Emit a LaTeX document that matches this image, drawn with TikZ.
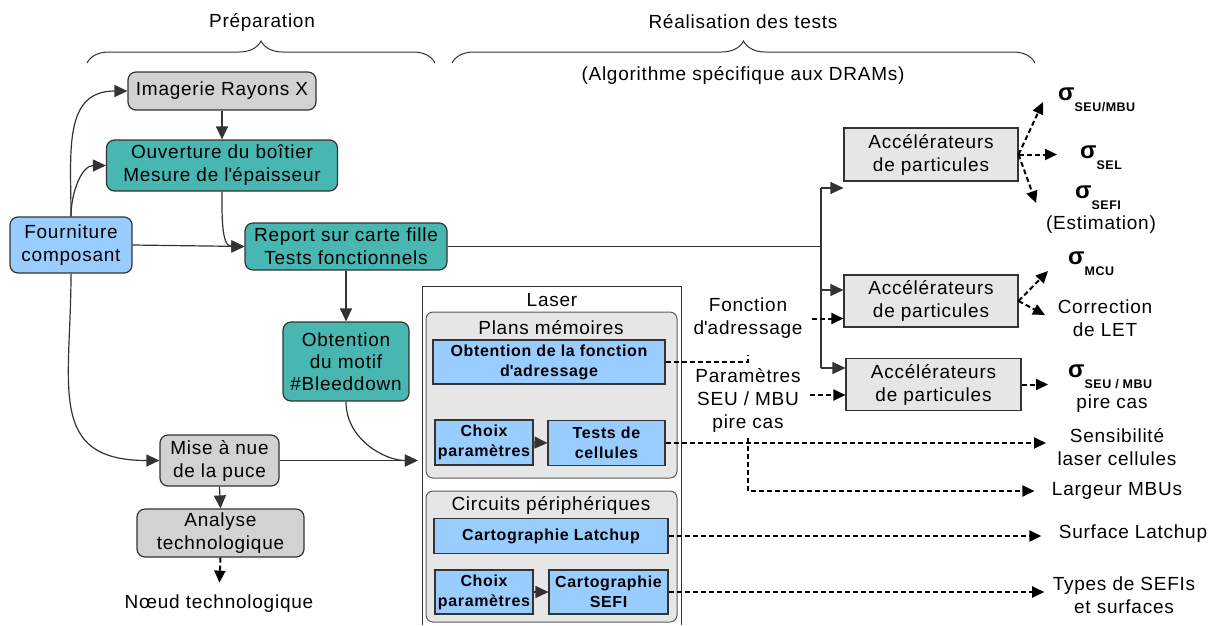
\documentclass[tikz,border=0pt]{standalone}
\usepackage{fontspec}
\setmainfont{Liberation Sans}[LetterSpace=4]
\usetikzlibrary{arrows.meta,decorations.pathreplacing}

\definecolor{tealfill}{HTML}{48B6B1}
\definecolor{bluefill}{HTML}{99CCFF}
\definecolor{grisfill}{HTML}{D2D2D2}
\definecolor{panelfill}{HTML}{E6E6E6}
\definecolor{edge}{HTML}{333333}

\newcommand{\txtsize}{\fontsize{19}{23}\selectfont}
\newcommand{\cellsize}{\fontsize{16}{20}\selectfont\bfseries}
\newcommand{\apos}{\textquotesingle}
\newcommand{\sgm}[1]{{\fontsize{24}{24}\selectfont\bfseries σ}\raisebox{-11pt}{\fontsize{12.5}{12.5}\selectfont\bfseries #1}}

\tikzset{
  every node/.style={font=\txtsize, align=center},
  rbox/.style={draw=edge, line width=1.2pt, rounded corners=8pt, inner sep=0pt},
  grisbox/.style={rbox, fill=grisfill},
  tealbox/.style={rbox, fill=tealfill},
  bluebox/.style={rbox, fill=bluefill},
  panel/.style={draw=edge!80, line width=1pt, rounded corners=7pt, fill=panelfill, inner sep=0pt},
  cellbox/.style={draw=edge, line width=1.1pt, fill=bluefill, inner sep=0pt, font=\cellsize},
  accbox/.style={draw=edge, line width=1.1pt, fill=panelfill, inner sep=0pt},
  sig/.style={anchor=base west, inner sep=0pt},
  line/.style={draw=edge, line width=1.2pt},
  arr/.style={line, -{Triangle[length=13pt,width=12pt]}},
  dashl/.style={draw=black, line width=2pt, dash pattern=on 5pt off 3pt},
  dasharr/.style={dashl, -{Triangle[length=12pt,width=11pt]}},
  brc/.style={draw=edge, line width=1pt, decorate, decoration={brace, amplitude=22pt}}
}

\begin{document}
\begin{tikzpicture}[x=1pt,y=1pt]
\useasboundingbox (0,0) rectangle (1217,-625);

\node (prep) at (262,-22) {Préparation};
\node (real) at (743,-22) {Réalisation des tests};
\node (algo) at (743,-75) {(Algorithme spécifique aux DRAMs)};
\draw[brc] (87,-63) -- (435,-63);
\draw[brc] (452,-63) -- (1035,-63);

\node[grisbox, minimum width=188, minimum height=38] (imag) at (222,-91) {Imagerie Rayons X};
\node[tealbox, minimum width=231, minimum height=51] (ouv) at (222,-165.5) {Ouverture du boîtier\\Mesure de l\apos épaisseur};
\node[bluebox, minimum width=122, minimum height=56] (four) at (71,-245) {Fourniture\\composant};
\node[tealbox, minimum width=202, minimum height=47] (rep) at (346,-246.5) {Report sur carte fille\\Tests fonctionnels};
\node[tealbox, minimum width=126, minimum height=79, font=\fontsize{19}{22}\selectfont] (motif) at (346,-361.5) {Obtention\\du motif\\\#Bleeddown};
\node[grisbox, minimum width=119, minimum height=51] (mise) at (219.5,-460.5) {Mise à nue\\de la puce};
\node[grisbox, minimum width=167, minimum height=48] (analyse) at (220.5,-533) {Analyse\\technologique};
\node (noeud) at (219,-604) {Nœud technologique};

\node[minimum width=258, minimum height=338, inner sep=0pt] (laser) at (552,-456) {};
\draw[line] (laser.south west) |- (laser.north east) -- (laser.south east);
\node (lasert) at (552,-300) {Laser};
\node[panel, minimum width=251, minimum height=166] (plans) at (551.5,-395) {};
\node (planst) at (551,-328) {Plans mémoires};
\node[panel, minimum width=251, minimum height=131] (circ) at (551.5,-556.5) {};
\node (circt) at (551,-505) {Circuits périphériques};

\node[cellbox, minimum width=232, minimum height=44] (obtf) at (549,-362) {Obtention de la fonction\\d\apos adressage};
\node[cellbox, minimum width=98, minimum height=45] (choixa) at (484,-442.5) {Choix\\paramètres};
\node[cellbox, minimum width=117, minimum height=45] (tests) at (606.5,-443) {Tests de\\cellules};
\node[cellbox, minimum width=234, minimum height=35] (carto) at (551,-536) {Cartographie Latchup};
\node[cellbox, minimum width=98, minimum height=44] (choixb) at (484,-592) {Choix\\paramètres};
\node[cellbox, minimum width=119, minimum height=44] (sefi) at (608.5,-592) {Cartographie\\SEFI};

\node[accbox, minimum width=174, minimum height=53] (acca) at (931,-154.5) {Accélérateurs\\de particules};
\node[accbox, minimum width=174, minimum height=52] (accb) at (931,-301) {Accélérateurs\\de particules};
\node[accbox, minimum width=175, minimum height=52] (accc) at (933.5,-384.5) {Accélérateurs\\de particules};

\node (fonc) at (748,-318.5) {Fonction\\d\apos adressage};
\node (param) at (748,-400) {Paramètres\\SEU / MBU\\pire cas};

\node[sig] (sseu) at (1058,-100) {\sgm{SEU/MBU}};
\node[sig] (ssel) at (1080,-158) {\sgm{SEL}};
\node[sig] (ssefi) at (1075,-198) {\sgm{SEFI}};
\node (estim) at (1101,-225) {(Estimation)};
\node[sig] (smcu) at (1068,-264) {\sgm{MCU}};
\node (corr) at (1105,-318.5) {Correction\\de LET};
\node[sig] (spire) at (1068,-377) {\sgm{SEU / MBU}};
\node (pire) at (1112,-404) {pire cas};
\node (sens) at (1117,-447.5) {Sensibilité\\laser cellules};
\node (larg) at (1117,-491) {Largeur MBUs};
\node (surf) at (1133,-533.5) {Surface Latchup};
\node (types) at (1124,-595.5) {Types de SEFIs\\et surfaces};

\coordinate (pseu) at (1043,-102);
\coordinate (psel) at (1057,-154.5);
\coordinate (psefi) at (1036,-203);
\coordinate (pmcu) at (1048,-271);
\coordinate (pcorr) at (1045,-315);
\coordinate (ppire) at (1048,-384.5);
\coordinate (ta) at (821,-188);
\coordinate (tc) at (821,-368);

\draw[arr] (four.north) to[out=90,in=180,looseness=1.2] (imag.west);
\draw[arr] (four.north) to[out=90,in=180] (ouv.west);
\draw[arr] (four.east) -- (rep.west);
\draw[arr] (four.south) to[out=-90,in=180,looseness=1.4] (mise.west);
\draw[arr] (imag.south) -- (ouv.north);
\draw[arr] (ouv.south) to[out=-90,in=180] (rep.west);
\draw[arr] (rep.south) -- (motif.north);
\draw[arr, shorten >=5pt] (motif.south) to[out=-90,in=180] (mise.east -| laser.west);
\draw[arr, shorten >=5pt] (mise.east) -- (mise.east -| laser.west);
\draw[arr] (mise.south) -- (analyse.north);
\draw[dasharr, shorten >=9pt] (analyse.south) -- (noeud.north);

\draw[line] (rep.east) -- (rep.east -| ta);
\draw[line] (ta) -- (tc);
\draw[arr] (ta) -- (ta -| acca.west);
\draw[arr] ([yshift=11pt]accb.west -| ta) -- ([yshift=11pt]accb.west);
\draw[arr] (tc) -- (tc -| accc.west);

\draw[arr] (choixa.east) -- (tests.west);
\draw[arr] (choixb.east) -- (sefi.west);

\draw[dashl] (obtf.east) -| ([yshift=-13pt]fonc.south);
\draw[dasharr] ([xshift=6pt]fonc.east) -- (fonc.east -| accb.west);
\draw[dasharr] ([xshift=6pt,yshift=5pt]param.east) -- ([yshift=5pt]param.east -| accc.west);
\draw[dasharr, shorten >=8pt] (tests.east) -- (tests.east -| sens.west);
\draw[dasharr, shorten >=14pt] ([yshift=-2pt]param.south) |- (larg.west);
\draw[dasharr, shorten >=14pt] (carto.east) -- (carto.east -| surf.west);
\draw[dasharr, shorten >=5pt] (sefi.east) -- (sefi.east -| types.west);

\draw[dasharr] (acca.east) -- (pseu);
\draw[dasharr] (acca.east) -- (psel);
\draw[dasharr] (acca.east) -- (psefi);
\draw[dasharr] (accb.east) -- (pmcu);
\draw[dasharr] (accb.east) -- (pcorr);
\draw[dasharr] (accc.east) -- (ppire);
\end{tikzpicture}
\end{document}
